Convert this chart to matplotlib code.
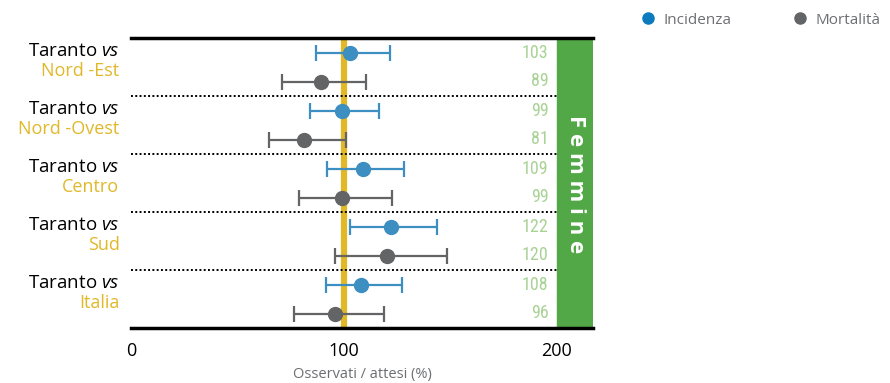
import matplotlib.pyplot as plt
from matplotlib.lines import Line2D
from matplotlib import font_manager
import numpy as np

plt.rcParams['font.family'] = ['Open Sans', 'DejaVu Sans']
plt.rcParams['mathtext.fontset'] = 'custom'
plt.rcParams['mathtext.rm'] = 'Open Sans'
plt.rcParams['mathtext.it'] = 'Open Sans:italic'

# dati
aree = ['Nord -Est', 'Nord -Ovest', 'Centro', 'Sud', 'Italia']
inc_val = [103, 99, 109, 122, 108]
inc_lo = [87, 84, 92, 103, 91.5]
inc_hi = [121.5, 116.5, 128, 143.5, 127]
mort_val = [89, 81, 99, 120, 96]
mort_lo = [71, 65, 79, 96, 76.5]
mort_hi = [110.5, 101, 122.5, 148.5, 119]
etichette_x = [0, 100, 200]

col_inc = '#3d8ec1'
col_mort = '#636466'
col_gold = '#e0b828'
col_green = '#52a846'
col_num = '#a9d296'

# font stretto per i numeri, se c'e'
nomi = set(f.name for f in font_manager.fontManager.ttflist)
font_num = 'Roboto'
for nome in ['Roboto Condensed', 'Liberation Sans Narrow', 'Open Sans Condensed']:
    if nome in nomi:
        font_num = nome
        break

fig = plt.figure(figsize=(8.9, 3.83), dpi=100)
ax = fig.add_axes([131 / 890, 1 - 328 / 383, 462 / 890, 290 / 383])

n = len(aree)
y_inc = np.arange(n) * 2
y_mort = y_inc + 1

xmax = 462 / 2.13
ax.set_xlim(0, xmax)
ax.set_ylim(2 * n - 0.5, -0.5)

# linea di riferimento a 100
ax.axvline(100, color=col_gold, lw=4.5, zorder=1)

# riquadro verde
ax.axvspan(200, xmax, color=col_green, zorder=0)
ax.text((200 + xmax) / 2, (2 * n - 1) / 2 + 0.05, 'F e m m i n e', rotation=-90,
        ha='center', va='center', color='white', fontsize=16,
        fontweight='bold')

# separatori
for k in range(1, n):
    ax.plot([0, 200], [2 * k - 0.5, 2 * k - 0.5], color='black', lw=1.4,
            ls=(0, (1, 1.2)), zorder=1)

inc_v = np.array(inc_val)
mort_v = np.array(mort_val)
ax.errorbar(inc_v, y_inc,
            xerr=[inc_v - np.array(inc_lo), np.array(inc_hi) - inc_v],
            fmt='o', color=col_inc, ms=10, elinewidth=1.6, capsize=6,
            capthick=1.6, zorder=3)
ax.errorbar(mort_v, y_mort,
            xerr=[mort_v - np.array(mort_lo), np.array(mort_hi) - mort_v],
            fmt='o', color=col_mort, ms=10, elinewidth=1.6, capsize=6,
            capthick=1.6, zorder=3)

# valori a destra
dim_num = 13 if font_num != 'Roboto' else 11
for i in range(n):
    ax.text(196, y_inc[i], str(inc_val[i]), ha='right', va='center',
            color=col_num, fontsize=dim_num, family=font_num)
    ax.text(196, y_mort[i], str(mort_val[i]), ha='right', va='center',
            color=col_num, fontsize=dim_num, family=font_num)

# etichette a sinistra
for i in range(n):
    ax.text(-0.025, y_inc[i] - 0.05, 'Taranto $\\mathit{vs}$',
            transform=ax.get_yaxis_transform(),
            ha='right', va='center', fontsize=13.5, color='black')
    ax.text(-0.025, y_inc[i] + 0.65, aree[i], transform=ax.get_yaxis_transform(),
            ha='right', va='center', fontsize=13, color=col_gold)

for s in ['left', 'right']:
    ax.spines[s].set_visible(False)
ax.spines['top'].set_linewidth(2.5)
ax.spines['bottom'].set_linewidth(2.5)
ax.set_yticks([])
ax.set_xticks(etichette_x)
ax.tick_params(axis='x', length=0, pad=10, labelsize=13)
ax.set_xlabel('Osservati / attesi (%)', color='#6d6e71', fontsize=10.5,
              labelpad=5)

handles = [Line2D([], [], marker='o', ls='none', color='#0c7bbd', ms=8),
           Line2D([], [], marker='o', ls='none', color=col_mort, ms=8)]
fig.legend(handles, ['Incidenza', 'Mortalità'], loc='center left',
           bbox_to_anchor=(627 / 890, 1 - 20 / 383), ncol=2, frameon=False,
           fontsize=11, labelcolor='#6d6e71', handletextpad=0.5,
           columnspacing=4.0, handlelength=1)

fig.savefig('out.png', dpi=100)
